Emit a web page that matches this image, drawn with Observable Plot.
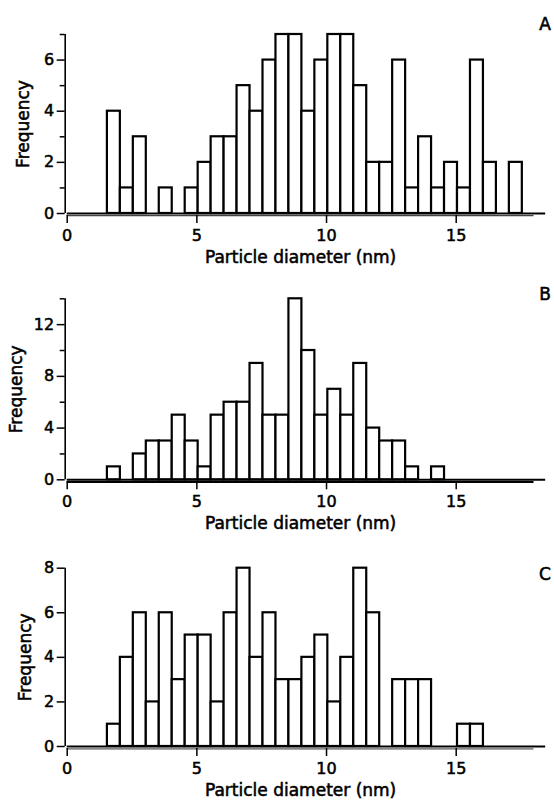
<!DOCTYPE html>
<html>
<head>
<meta charset="utf-8">
<script src="https://cdn.jsdelivr.net/npm/d3@7"></script>
<script src="https://cdn.jsdelivr.net/npm/@observablehq/plot@0.6"></script>
<style>
  html, body { margin: 0; padding: 0; background: #fff; }
  #chart svg { display: block; overflow: visible; }
  #chart svg text { stroke: #000; stroke-width: 0.55px; }
</style>
</head>
<body>
<div id="chart"></div>
<script>
// Lower edges of the 0.5 nm diameter bins (nm)
const binLower = [1.55, 2.05, 2.55, 3.05, 3.55, 4.05, 4.55, 5.05, 5.55, 6.05, 6.55, 7.05, 7.55, 8.05, 8.55, 9.05,
                  9.55, 10.05, 10.55, 11.05, 11.55, 12.05, 12.55, 13.05, 13.55, 14.05, 14.55, 15.05, 15.55, 16.05, 16.55, 17.05];
const binWidth = 0.5;

// Frequencies
const countsA = [4, 1, 3, 0, 1, 0, 1, 2, 3, 3, 5, 4, 6, 7, 7, 4, 6, 7, 7, 5, 2, 2, 6, 1, 3, 1, 2, 1, 6, 2, 0, 2];
const countsB = [1, 0, 2, 3, 3, 5, 3, 1, 5, 6, 6, 9, 5, 5, 14, 10, 5, 7, 5, 9, 4, 3, 3, 1, 0, 1];
const countsC = [1, 4, 6, 2, 6, 3, 5, 5, 2, 6, 8, 4, 6, 3, 3, 4, 5, 2, 4, 8, 6, 0, 3, 3, 3, 0, 0, 1, 1];

// Axis ticks
const xTicks = [0, 5, 10, 15];
const xMax = 18;
const yMajorA = [0, 2, 4, 6], yMinorA = [1, 3, 5, 7], yMaxA = 7;
const yMajorB = [0, 4, 8, 12], yMinorB = [2, 6, 10, 14], yMaxB = 14;
const yMajorC = [0, 2, 4, 6, 8], yMinorC = [], yMaxC = 8;

const xTitle = "Particle diameter (nm)";
const yTitle = "Frequency";
const FONT = "DejaVu Sans";
const fmt = d => String(d);

function panel(o) {
  const data = o.counts.map((c, i) => ({x1: binLower[i], x2: binLower[i] + binWidth, y: c}));
  return Plot.plot({
    width: 554,
    height: o.height,
    marginLeft: 66.7,
    marginRight: 20.5,
    marginTop: o.marginTop,
    marginBottom: o.marginBottom,
    style: {fontFamily: FONT, fontSize: "16px", background: "white", color: "black", overflow: "visible"},
    x: {domain: [0, xMax], label: null},
    y: {domain: [0, o.yMax], label: null},
    marks: [
      Plot.rectY(data, {x1: "x1", x2: "x2", y: "y", fill: "white", stroke: "black", strokeWidth: 2.2}),
      Plot.ruleY([0], {x1: 0, x2: 18.45, stroke: "black", strokeWidth: 2}),
      Plot.ruleY([0], {x1: 0, x2: xMax, dy: 2.2, stroke: o.axisColor, strokeWidth: o.axisWidth}),
      Plot.ruleX([0], {y1: 0, y2: o.yMax, dx: -2, stroke: "black", strokeWidth: 1.6}),
      Plot.axisY({ticks: o.major, tickFormat: fmt, tickSize: 8, dx: -2, tickPadding: 3, strokeWidth: 1.5, fontSize: 16, label: null}),
      ...(o.minor.length ? [Plot.axisY({ticks: o.minor, tickSize: 5, dx: -2, tickFormat: () => "", strokeWidth: 1.5, label: null})] : []),
      Plot.axisX({ticks: xTicks, tickFormat: fmt, tickSize: 8, dy: 2, tickPadding: 6, strokeWidth: 1.5, fontSize: 16, label: null}),
      Plot.text([xTitle], {frameAnchor: "bottom", dy: 44, text: d => d, fontSize: 17, textAnchor: "middle", lineAnchor: "middle"}),
      Plot.text([yTitle], {frameAnchor: "left", dx: o.yTitleDx, rotate: -90, text: d => d, fontSize: 17, textAnchor: "middle", lineAnchor: "middle"}),
      Plot.text([o.letter], {frameAnchor: "top-right", dx: 11, dy: o.letterDy, text: d => d, fontSize: 17, textAnchor: "middle", lineAnchor: "middle"})
    ]
  });
}

const chart = document.getElementById("chart");
chart.append(panel({counts: countsA, yMax: yMaxA, major: yMajorA, minor: yMinorA, letter: "A",
  height: 272, marginTop: 34, marginBottom: 59, letterDy: -10, yTitleDx: -44, axisColor: "#444", axisWidth: 1.3}));
chart.append(panel({counts: countsB, yMax: yMaxB, major: yMajorB, minor: yMinorB, letter: "B",
  height: 270, marginTop: 26.3, marginBottom: 62.7, letterDy: -4, yTitleDx: -50.7, axisColor: "black", axisWidth: 2}));
chart.append(panel({counts: countsC, yMax: yMaxC, major: yMajorC, minor: yMinorC, letter: "C",
  height: 258, marginTop: 25.7, marginBottom: 54, letterDy: 6, yTitleDx: -42, axisColor: "#888", axisWidth: 2}));
</script>
</body>
</html>
